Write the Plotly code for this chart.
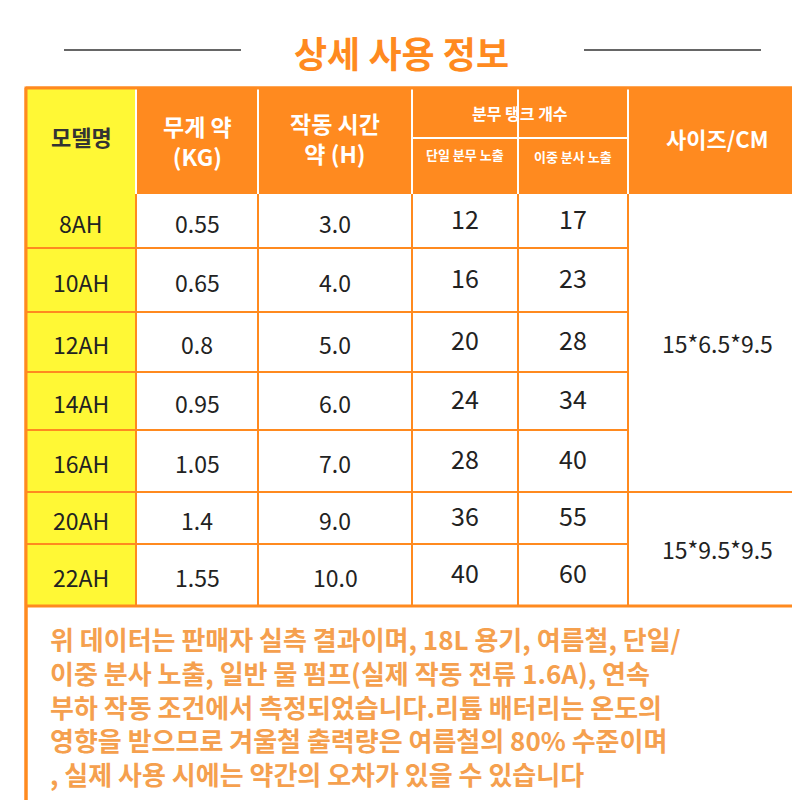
import plotly.graph_objects as go

models = ["8AH","10AH","12AH","14AH","16AH","20AH","22AH"]
weights = ["0.55","0.65","0.8","0.95","1.05","1.4","1.55"]
hours = ["3.0","4.0","5.0","6.0","7.0","9.0","10.0"]
single = ["12","16","20","24","28","36","40"]
double = ["17","23","28","34","40","55","60"]
sizes = ["15*6.5*9.5","15*9.5*9.5"]
size_groups = [(0,5),(5,7)]
title = "상세 사용 정보"
headers = ["모델명","무게 약<br>(KG)","작동 시간<br>약 (H)","분무 탱크 개수","사이즈/CM"]
subheaders = ["단일 분무 노출","이중 분사 노출"]
note = ("위 데이터는 판매자 실측 결과이며, 18L 용기, 여름철, 단일/<br>"
        "이중 분사 노출, 일반 물 펌프(실제 작동 전류 1.6A), 연속<br>"
        "부하 작동 조건에서 측정되었습니다.리튬 배터리는 온도의<br>"
        "영향을 받으므로 겨울철 출력량은 여름철의 80% 수준이며<br>"
        ", 실제 사용 시에는 약간의 오차가 있을 수 있습니다")

OR = "#FF8A1F"; YE = "#FFF835"; NT = "#F5A04E"
xs = [10,120,242,396,502,612,790]
ys = [178,232,296,356,414,476,528,590]
font = "Noto Sans CJK KR"

fig = go.Figure()
shapes = []; ann = []
def rect(x0,y0,x1,y1,fill,lw=0,lc=OR):
    shapes.append(dict(type="rect",x0=x0,y0=y0,x1=x1,y1=y1,fillcolor=fill,line=dict(width=lw,color=lc),layer="below"))
def line(x0,y0,x1,y1,c=OR,w=2):
    shapes.append(dict(type="line",x0=x0,y0=y0,x1=x1,y1=y1,line=dict(color=c,width=w)))
def txt(x,y,t,size,color,bold=False,align="center"):
    ann.append(dict(x=x,y=y,text=f"<b>{t}</b>" if bold else t,showarrow=False,font=dict(size=size,color=color,family=font),align=align,xanchor="center",yanchor="middle"))

rect(10,72,790,790,"white",3)
rect(10,72,120,178,YE); rect(120,72,790,178,OR)
rect(10,178,120,590,YE)
for x in xs[1:-1]:
    line(x,72,x,178,"white",2)
line(396,122,612,122,"white",2)
line(502,122,502,178,"white",2)
for y in ys[1:]:
    line(10,y,612,y)
line(612,476,790,476)
for x in xs[1:-1]:
    line(x,178,x,590)
line(10,590,790,590,OR,3)
line(10,72,10,790,OR,3); line(790,72,790,790,OR,3)
line(10,72,790,72,OR,3); line(10,790,790,790,OR,3)

hx = [(10+120)/2,(120+242)/2,(242+396)/2,(396+612)/2,(612+790)/2]
txt(hx[0],120,headers[0],22,"#333",True)
txt(hx[1],125,headers[1],23,"white",True)
txt(hx[2],122,headers[2],23,"white",True)
txt(hx[3],97,headers[3],16,"white",True)
txt(hx[4],122,headers[4],22,"white",True)
txt(449,138,subheaders[0],13,"white",True)
txt(557,140,subheaders[1],13,"white",True)
for i in range(7):
    yc = (ys[i]+ys[i+1])/2+2
    txt(65,yc,models[i],23,"#222")
    txt(181,yc,weights[i],23,"#222")
    txt(319,yc,hours[i],23,"#222")
    txt(449,yc-5,single[i],25,"#222")
    txt(557,yc-5,double[i],25,"#222")
for s,(a,b) in zip(sizes,size_groups):
    txt(701,(ys[a]+ys[b])/2,s,23,"#222")
txt(385,36,title,36,OR,True)
line(48,34,225,34,"#333",1.5); line(568,34,745,34,"#333",1.5)
ann.append(dict(x=32,y=690,text=f"<b>{note}</b>",showarrow=False,xanchor="left",yanchor="middle",align="left",font=dict(size=26,color=NT,family=font)))

fig.update_layout(width=800,height=800,margin=dict(l=0,r=0,t=0,b=0),plot_bgcolor="white",paper_bgcolor="white",
    shapes=shapes,annotations=ann,showlegend=False,
    xaxis=dict(range=[-8,792],visible=False),yaxis=dict(range=[792,-8],visible=False))
fig.write_html("out.html")
